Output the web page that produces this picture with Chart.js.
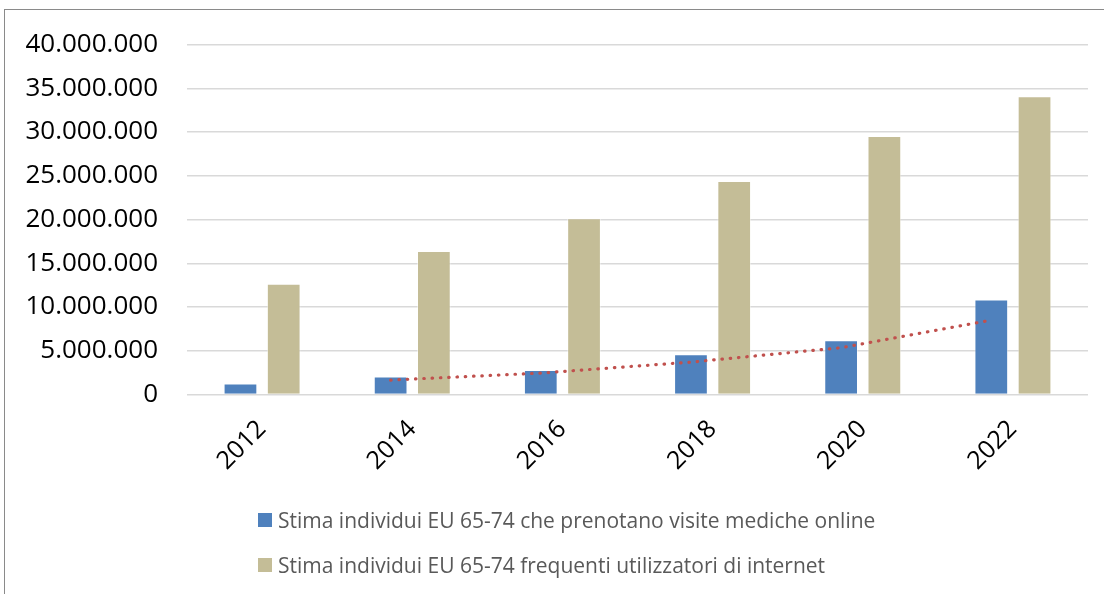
<!DOCTYPE html>
<html>
<head>
<meta charset="utf-8">
<script src="https://cdn.jsdelivr.net/npm/chart.js@4.4.1/dist/chart.umd.min.js"></script>
<style>
    html, body { margin: 0; padding: 0; background: #fff; }
    body { width: 1104px; height: 594px; overflow: hidden; position: relative; font-family: "Open Sans", sans-serif; }
    .frame { position: absolute; left: 4px; top: 9px; width: 1200px; height: 700px; border-left: 1px solid #8a8a8a; border-top: 1px solid #8a8a8a; }
    #chart { position: absolute; left: 0; top: 0; }
    .legend { position: absolute; left: 258px; top: 505px; }
    .legend-item { display: flex; align-items: center; height: 30px; margin-bottom: 15px; font-size: 21px; color: #595959; white-space: nowrap; }
    .legend-item span.box { width: 14px; height: 14px; margin-right: 6px; flex: none; }
</style>
</head>
<body>
<div class="frame"></div>
<canvas id="chart" width="1104" height="594"></canvas>
<div class="legend" id="legend"></div>
<script>
// Data
const years = ['2012', '2014', '2016', '2018', '2020', '2022'];
const visiteOnline = [1250000, 2050000, 2800000, 4600000, 6200000, 10850000];
const utentiInternet = [12650000, 16400000, 20150000, 24400000, 29550000, 34100000];
// moving-average trendline (2 periods) as drawn in the picture
const trendVisite = [null, 1650000, 2450000, 3700000, 5350000, 8500000];
const yTicks = { min: 0, max: 40000000, step: 5000000 };

const labelBlue = 'Stima individui EU 65-74 che prenotano visite mediche online';
const labelTan = 'Stima individui EU 65-74 frequenti utilizzatori di internet';

function formatIt(v) {
    return String(v).replace(/\B(?=(\d{3})+(?!\d))/g, '.');
}

// put the trendline points on the centre of the blue bars
const trendOnBars = {
    id: 'trendOnBars',
    afterDatasetsUpdate(chart) {
        const bars = chart.getDatasetMeta(0).data;
        const line = chart.getDatasetMeta(2).data;
        line.forEach((pt, i) => { if (bars[i]) pt.x = bars[i].x; });
    }
};

const ctx = document.getElementById('chart').getContext('2d');
const chart = new Chart(ctx, {
    type: 'bar',
    data: {
        labels: years,
        datasets: [{
            label: labelBlue,
            data: visiteOnline,
            backgroundColor: '#4F81BD',
            borderColor: 'rgba(255,255,255,0.45)',
            borderWidth: 1,
            barPercentage: 0.78,
            categoryPercentage: 0.576,
            order: 1
        }, {
            label: labelTan,
            data: utentiInternet,
            backgroundColor: '#C4BD97',
            borderColor: 'rgba(255,255,255,0.45)',
            borderWidth: 1,
            barPercentage: 0.78,
            categoryPercentage: 0.576,
            order: 1
        }, {
            type: 'line',
            label: 'trend',
            data: trendVisite,
            borderColor: '#C0504D',
            borderWidth: 3.2,
            borderDash: [0.5, 7.8],
            borderCapStyle: 'round',
            pointRadius: 0,
            tension: 0,
            spanGaps: false,
            order: 0
        }]
    },
    options: {
        responsive: false,
        animation: false,
        layout: { padding: { left: 0, right: 16, top: 41, bottom: 0 } },
        plugins: {
            legend: { display: false },
            tooltip: { enabled: false }
        },
        scales: {
            y: {
                min: yTicks.min,
                max: yTicks.max,
                ticks: {
                    stepSize: yTicks.step,
                    padding: 29,
                    color: '#000',
                    font: { family: 'Open Sans', size: 26 },
                    callback: v => formatIt(v)
                },
                grid: { color: '#d9d9d9', lineWidth: 1.5, drawTicks: false },
                border: { display: false },
                afterFit: s => { s.width = 187; }
            },
            x: {
                ticks: {
                    minRotation: 45,
                    maxRotation: 45,
                    padding: 12,
                    color: '#000',
                    font: { family: 'Open Sans', size: 25 }
                },
                grid: { display: false },
                border: { display: false },
                afterFit: s => { s.height = 199.5; }
            }
        }
    },
    plugins: [trendOnBars]
});

// legend stacked like the original
const legendEl = document.getElementById('legend');
chart.data.datasets.slice(0, 2).forEach(ds => {
    const item = document.createElement('div');
    item.className = 'legend-item';
    const box = document.createElement('span');
    box.className = 'box';
    box.style.background = ds.backgroundColor;
    const txt = document.createElement('span');
    txt.textContent = ds.label;
    item.appendChild(box);
    item.appendChild(txt);
    legendEl.appendChild(item);
});
</script>
</body>
</html>
